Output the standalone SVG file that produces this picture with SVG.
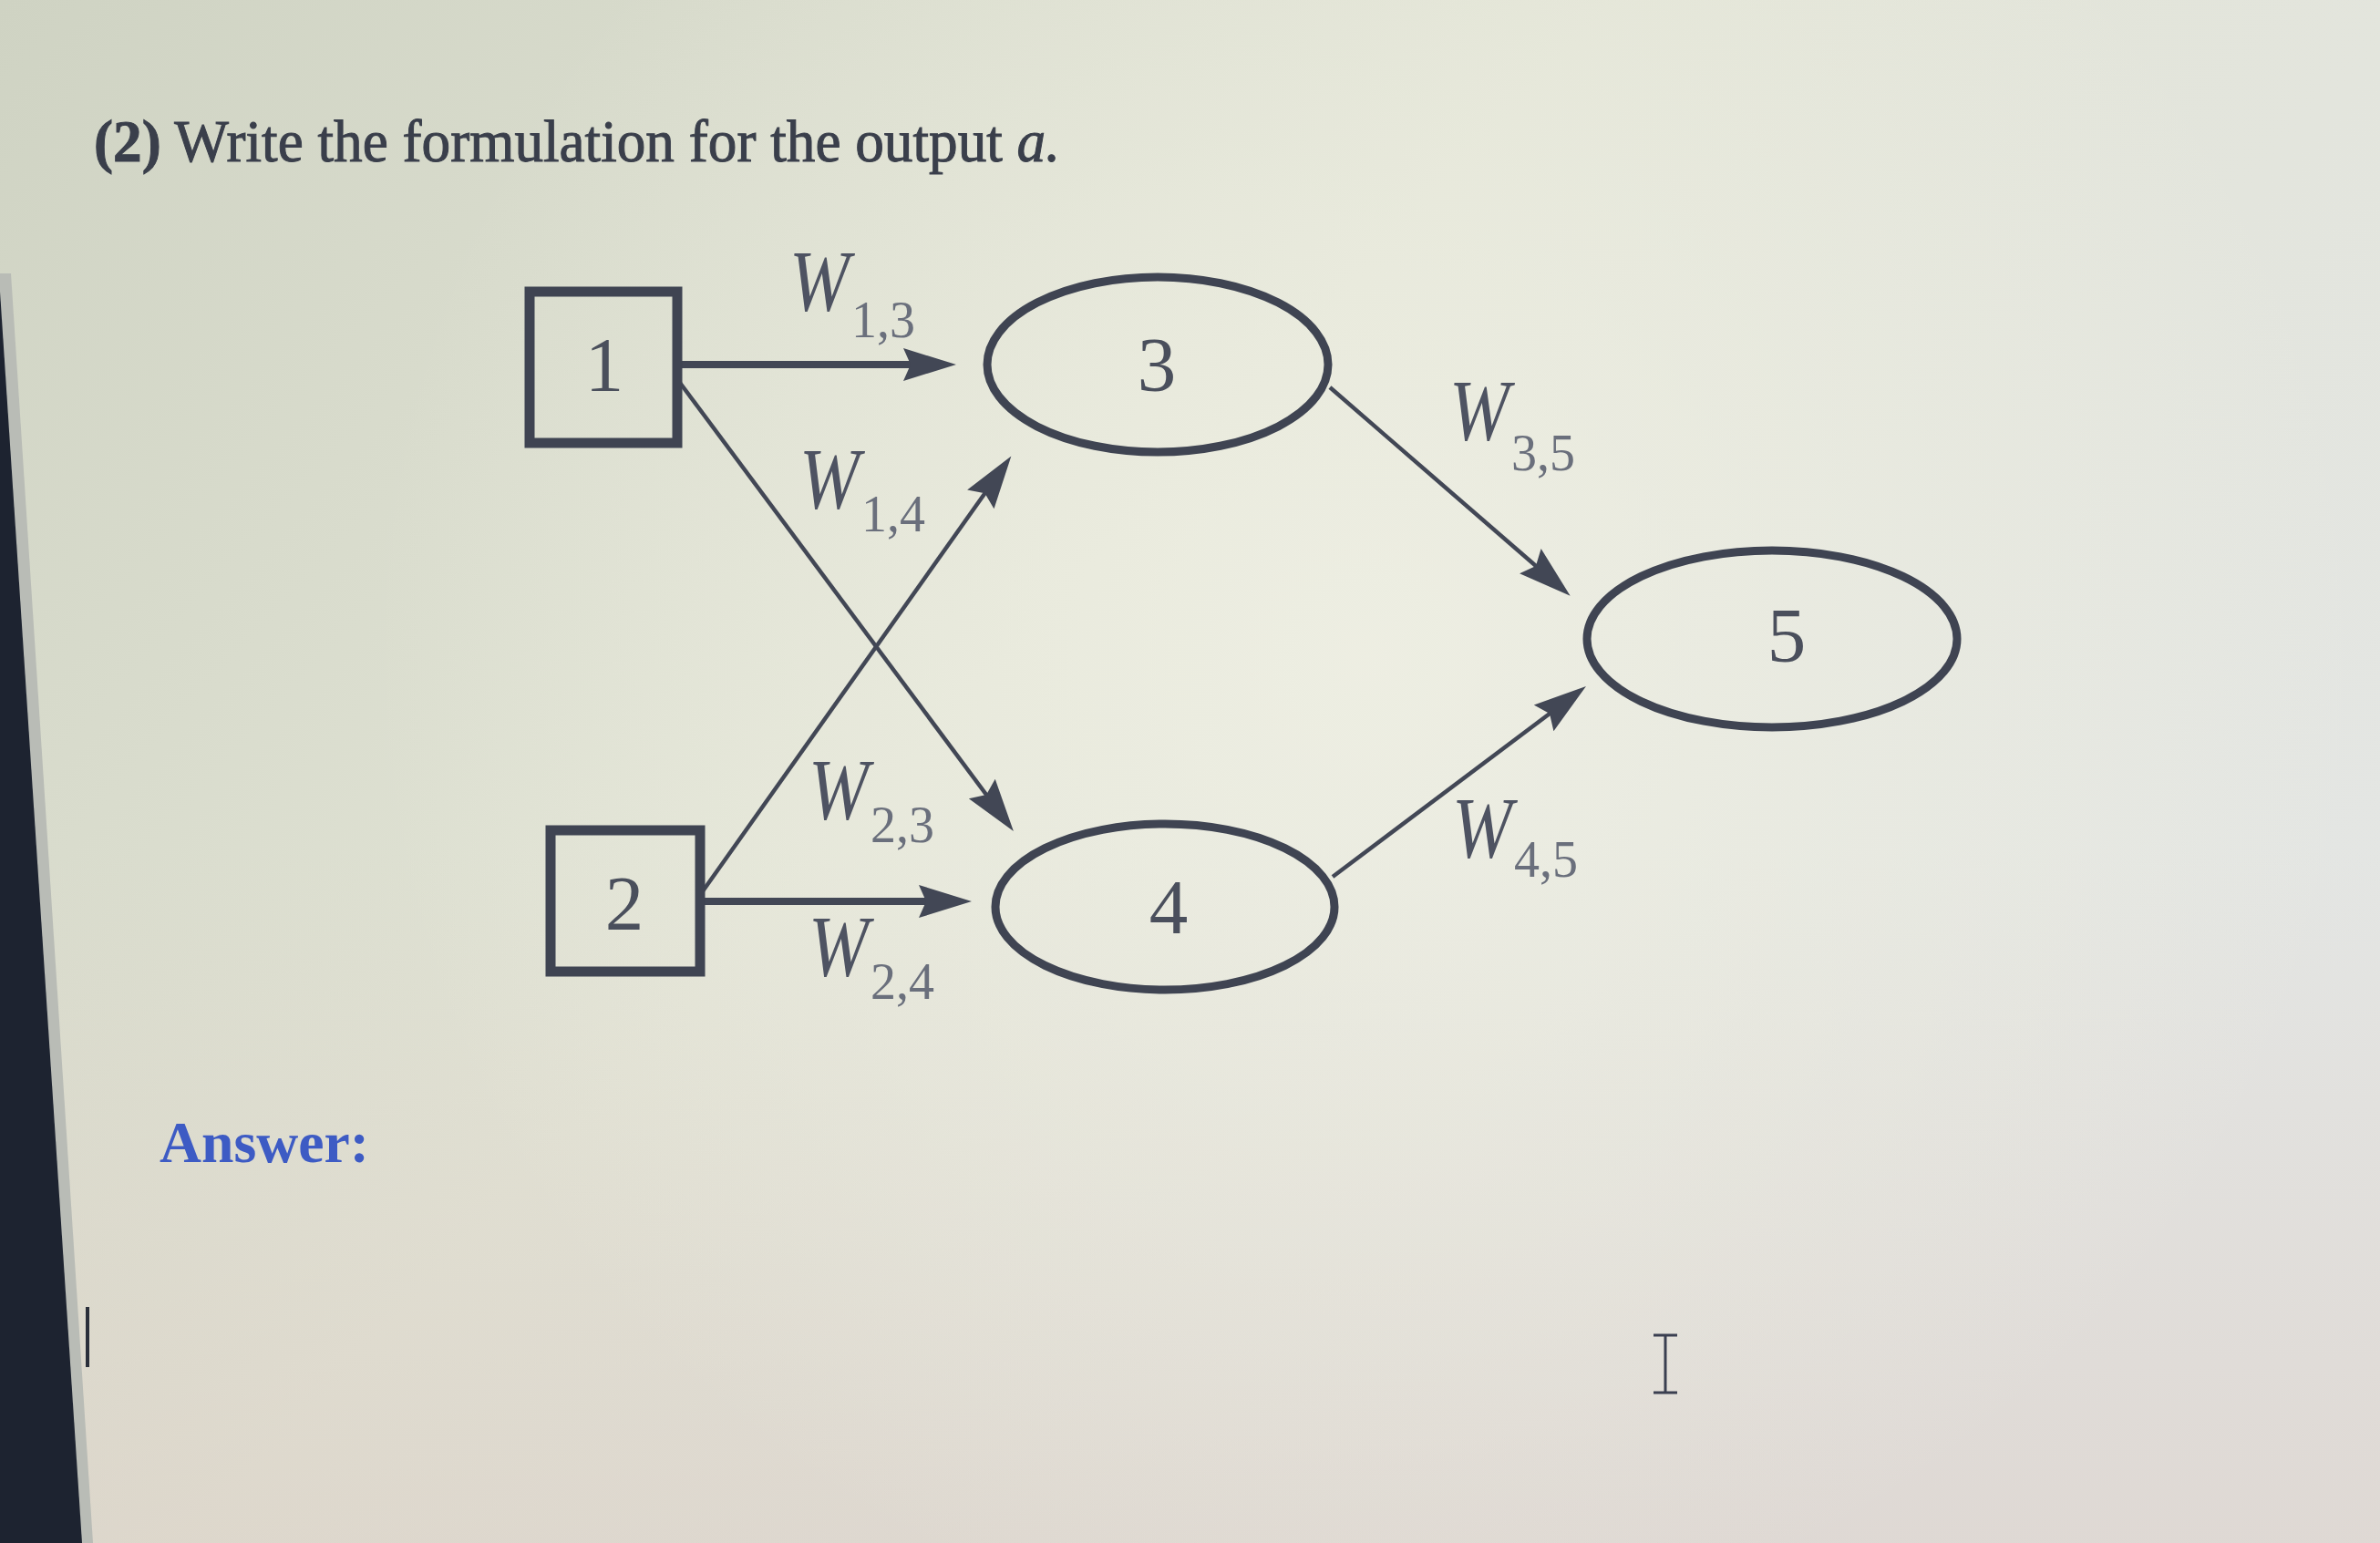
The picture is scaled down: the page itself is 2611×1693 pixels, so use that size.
<svg xmlns="http://www.w3.org/2000/svg" width="2611" height="1693" viewBox="0 0 2611 1693">
<defs>
<linearGradient id="bg" x1="0" y1="0" x2="1" y2="0.6">
<stop offset="0" stop-color="#cfd3c3"/>
<stop offset="0.5" stop-color="#e2e4d6"/>
<stop offset="1" stop-color="#e4e6e4"/>
</linearGradient>
<linearGradient id="bot" x1="0" y1="0" x2="0" y2="1">
<stop offset="0.55" stop-color="#d8c8c0" stop-opacity="0"/>
<stop offset="1" stop-color="#d8c8c0" stop-opacity="0.45"/>
</linearGradient>
<radialGradient id="glow" cx="1500" cy="720" r="1100" gradientUnits="userSpaceOnUse">
<stop offset="0" stop-color="#f2f2e6" stop-opacity="0.7"/>
<stop offset="1" stop-color="#f2f2e6" stop-opacity="0"/>
</radialGradient>
<marker id="ah" viewBox="0 -20 60 40" markerWidth="60" markerHeight="40" refX="28" refY="0" orient="auto" markerUnits="userSpaceOnUse">
<path d="M0,-18 L58,0 L0,18 L8,0 Z" fill="#424755"/>
</marker>
<style>
.box{fill:none;stroke:#3f4452;stroke-width:11}
.ell{fill:none;stroke:#3f4452;stroke-width:9}
.num{font-family:"Liberation Serif",serif;font-size:85px;fill:#4a4f5c;text-anchor:middle}
.thick{stroke:#424755;stroke-width:8;fill:none}
.thin{stroke:#424755;stroke-width:4.5;fill:none}
.w{font-family:"Liberation Serif",serif;font-size:95px;font-style:italic;fill:#4e5362}
.sub{font-family:"Liberation Serif",serif;font-size:56px;fill:#6a6f7c}
</style>
</defs>
<rect x="0" y="0" width="2611" height="1693" fill="url(#bg)"/>
<rect x="0" y="0" width="2611" height="1693" fill="url(#bot)"/>
<rect x="0" y="0" width="2611" height="1693" fill="url(#glow)"/>
<polygon points="0,300 12,300 102,1693 0,1693" fill="#b9bcb6"/>
<polygon points="0,320 90,1693 0,1693" fill="#1d2330"/>
<line x1="96" y1="1434" x2="96" y2="1500" stroke="#2a2f3a" stroke-width="4"/>
<g id="cursor" stroke="#3a3f50" stroke-width="3" fill="none">
<line x1="1827" y1="1465" x2="1827" y2="1528"/>
<line x1="1814" y1="1465" x2="1840" y2="1465"/>
<line x1="1814" y1="1528" x2="1840" y2="1528"/>
</g>
<text x="103" y="177" font-family="Liberation Serif, serif" font-size="65" fill="#3a3f4b" stroke="#3a3f4b" stroke-width="1" textLength="1060" lengthAdjust="spacingAndGlyphs"><tspan font-weight="bold">(2)</tspan> Write the formulation for the output <tspan font-style="italic">a.</tspan></text>
<text x="175" y="1275" font-family="Liberation Serif, serif" font-size="64" font-weight="bold" fill="#3d5bc4" textLength="230" lengthAdjust="spacingAndGlyphs">Answer:</text>
<g id="connectors">
<line class="thick" x1="743" y1="400" x2="1019" y2="400" marker-end="url(#ah)"/>
<line class="thick" x1="768" y1="989" x2="1036" y2="989" marker-end="url(#ah)"/>
<line class="thin" x1="743" y1="416" x2="1094" y2="888" marker-end="url(#ah)"/>
<line class="thin" x1="768" y1="982" x2="1092" y2="525" marker-end="url(#ah)"/>
<line class="thin" x1="1459" y1="425" x2="1700" y2="634" marker-end="url(#ah)"/>
<line class="thin" x1="1462" y1="962" x2="1716" y2="771" marker-end="url(#ah)"/>
</g>
<g id="weights">
<text class="w" x="866" y="341" textLength="66" lengthAdjust="spacingAndGlyphs">W</text><text class="sub" x="934" y="370">1,3</text>
<text class="w" x="877" y="558" textLength="66" lengthAdjust="spacingAndGlyphs">W</text><text class="sub" x="945" y="583">1,4</text>
<text class="w" x="887" y="899" textLength="66" lengthAdjust="spacingAndGlyphs">W</text><text class="sub" x="955" y="924">2,3</text>
<text class="w" x="887" y="1071" textLength="66" lengthAdjust="spacingAndGlyphs">W</text><text class="sub" x="955" y="1096">2,4</text>
<text class="w" x="1590" y="483" textLength="66" lengthAdjust="spacingAndGlyphs">W</text><text class="sub" x="1658" y="516">3,5</text>
<text class="w" x="1593" y="941" textLength="66" lengthAdjust="spacingAndGlyphs">W</text><text class="sub" x="1661" y="962">4,5</text>
</g>
<g id="node1"><rect class="box" x="581" y="320" width="162" height="166"/><text class="num" x="663" y="429">1</text></g>
<g id="node2"><rect class="box" x="604" y="911" width="164" height="155"/><text class="num" x="685" y="1020">2</text></g>
<g id="node3"><ellipse class="ell" cx="1270" cy="400" rx="187" ry="96"/><text class="num" x="1269" y="429">3</text></g>
<g id="node4"><ellipse class="ell" cx="1278" cy="995" rx="186" ry="91"/><text class="num" x="1282" y="1024">4</text></g>
<g id="node5"><ellipse class="ell" cx="1944" cy="701" rx="203" ry="97"/><text class="num" x="1960" y="726">5</text></g>
</svg>
